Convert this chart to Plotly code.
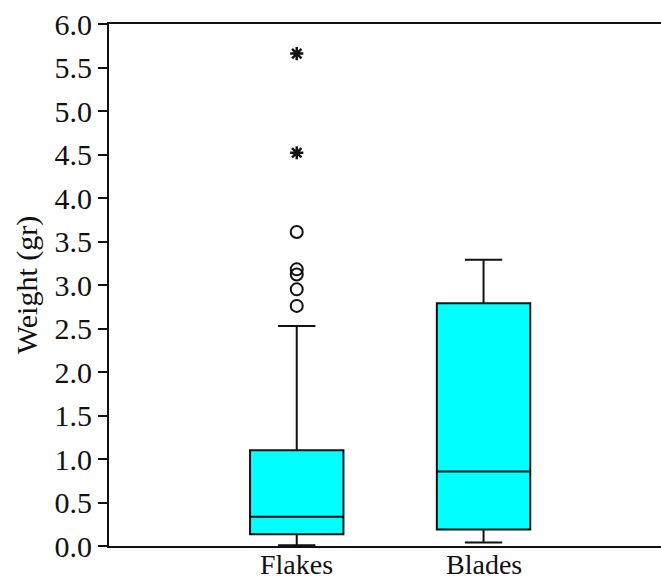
import plotly.graph_objects as go

# Artefact weight summaries (grams)
categories = ["Flakes", "Blades"]
lower_whisker = [0.01, 0.04]
q1 = [0.135, 0.19]
median = [0.335, 0.855]
q3 = [1.10, 2.79]
upper_whisker = [2.53, 3.29]

# Flakes outliers: mild (circles) and extreme (asterisks)
mild_outliers = [3.61, 3.18, 3.12, 2.95, 2.76]
extreme_outliers = [5.66, 4.52]

y_ticks = [0.0, 0.5, 1.0, 1.5, 2.0, 2.5, 3.0, 3.5, 4.0, 4.5, 5.0, 5.5, 6.0]

FONT = "Liberation Serif"
FS = 30

fig = go.Figure()

fig.add_trace(go.Box(
    x=categories,
    q1=q1,
    median=median,
    q3=q3,
    lowerfence=lower_whisker,
    upperfence=upper_whisker,
    boxpoints=False,
    width=0.5,
    whiskerwidth=0.4,
    fillcolor="#00FFFF",
    line=dict(color="#111111", width=2),
    showlegend=False,
    hoverinfo="skip",
))

fig.add_trace(go.Scatter(
    x=["Flakes"] * len(mild_outliers),
    y=mild_outliers,
    mode="markers",
    marker=dict(symbol="circle-open", size=12, color="#111111",
                line=dict(color="#111111", width=2)),
    showlegend=False,
))

fig.add_trace(go.Scatter(
    x=["Flakes"] * len(extreme_outliers),
    y=extreme_outliers,
    mode="markers",
    marker=dict(symbol="asterisk-open", size=11, color="#111111",
                line=dict(color="#111111", width=2.5)),
    showlegend=False,
))

# Category labels sit tight under the axis line
for cat in categories:
    fig.add_annotation(
        x=cat, xref="x", y=0, yref="paper",
        text=cat, showarrow=False,
        yanchor="top", yshift=-2, borderpad=0,
        font=dict(family=FONT, size=28, color="#111111"),
    )

fig.update_layout(
    width=661,
    height=582,
    margin=dict(l=109, r=0, t=24, b=36),
    paper_bgcolor="white",
    plot_bgcolor="white",
    font=dict(family=FONT, size=FS, color="#111111"),
    xaxis=dict(
        type="category",
        categoryorder="array",
        categoryarray=categories,
        range=[-1.005, 1.95],
        automargin=False,
        showline=True,
        linecolor="#111111",
        linewidth=2,
        mirror=True,
        ticks="",
        showticklabels=False,
        showgrid=False,
        zeroline=False,
    ),
    yaxis=dict(
        range=[0, 6],
        automargin=False,
        tickvals=y_ticks,
        ticktext=[f"{v:.1f}" for v in y_ticks],
        showline=True,
        linecolor="#111111",
        linewidth=2,
        ticks="outside",
        ticklen=9,
        tickwidth=2,
        tickcolor="#111111",
        showgrid=False,
        zeroline=False,
        tickfont=dict(family=FONT, size=FS, color="#111111"),
        title=dict(text="Weight (gr)", font=dict(family=FONT, size=FS, color="#111111"),
                   standoff=8),
    ),
)

fig.write_html("out.html")
